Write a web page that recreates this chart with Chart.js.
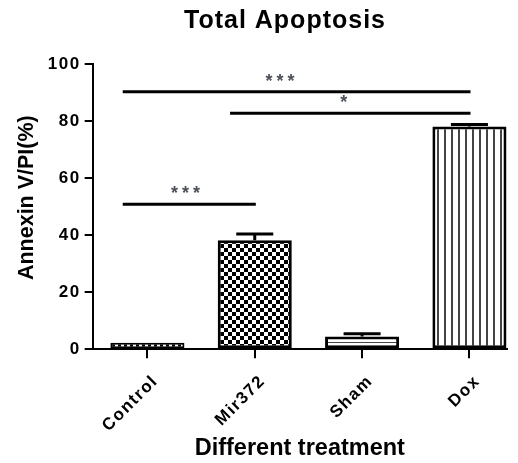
<!DOCTYPE html>
<html>
<head>
<meta charset="utf-8">
<script src="https://cdn.jsdelivr.net/npm/chart.js@4.4.1/dist/chart.umd.min.js"></script>
<style>
  html, body { margin: 0; padding: 0; background: #fff; }
  #wrap { width: 518px; height: 463px; }
</style>
</head>
<body>
<div id="wrap"><canvas id="grafica" width="518" height="463"></canvas></div>
<script>
const categorias = ["Control", "Mir372", "Sham", "Dox"];
const valores = [2.3, 38.2, 4.5, 78.1];
const errores = [0, 2.2, 0.9, 0.7];
// lineas de significancia: desde categoria, hasta categoria, altura, texto
const sigDesde = [0, 1, 0];
const sigHasta = [3, 3, 1];
const sigAltura = [90.3, 82.7, 50.8];
const sigTexto = ["***", "*", "***"];
const sigCorrido = [-0.155, -0.06, -0.035]; // corrimiento del texto respecto al centro

const fuente = "'Liberation Sans', Arial, sans-serif";
const ctx = document.getElementById("grafica").getContext("2d");

// Tramas de relleno de cada barra
function trama(tipo) {
  const c = document.createElement("canvas");
  const g = c.getContext("2d");
  if (tipo === "guiones") {
    c.width = 6; c.height = 1;
    g.fillStyle = "#000"; g.fillRect(0, 0, 6, 1);
    g.fillStyle = "#fff"; g.fillRect(1, 0, 3, 1);
  } else if (tipo === "cuadros") {
    c.width = 8; c.height = 8;
    g.fillStyle = "#fff"; g.fillRect(0, 0, 8, 8);
    g.fillStyle = "#000"; g.fillRect(0, 0, 4, 4); g.fillRect(4, 4, 4, 4);
  } else if (tipo === "horizontal") {
    c.width = 4; c.height = 5;
    g.fillStyle = "#fff"; g.fillRect(0, 0, 4, 5);
    g.fillStyle = "#444"; g.fillRect(0, 2, 4, 1);
  } else {
    c.width = 7; c.height = 4;
    g.fillStyle = "#fff"; g.fillRect(0, 0, 7, 4);
    g.fillStyle = "#444"; g.fillRect(3, 0, 2, 4);
  }
  return ctx.createPattern(c, "repeat");
}

// etiquetas de los ejes con letras separadas (como en Prism)
const espaciado = {
  id: "espaciado",
  beforeUpdate(chart) { chart.ctx.letterSpacing = "1.5px"; },
  beforeDraw(chart) { chart.ctx.letterSpacing = "0px"; },
  afterDatasetsDraw(chart) { chart.ctx.letterSpacing = "1.5px"; },
  afterDraw(chart) { chart.ctx.letterSpacing = "0px"; }
};

const extras = {
  id: "extras",
  afterDatasetsDraw(chart) {
    const c = chart.ctx;
    const xs = chart.scales.x;
    const ys = chart.scales.y;
    const barras = chart.getDatasetMeta(0).data;
    c.save();
    c.strokeStyle = "#000";
    c.lineWidth = 3;
    // barras de error (solo hacia arriba)
    barras.forEach((b, i) => {
      if (!errores[i]) return;
      const yTop = ys.getPixelForValue(valores[i] + errores[i]);
      c.beginPath();
      c.moveTo(b.x, b.y);
      c.lineTo(b.x, yTop);
      c.moveTo(b.x - b.width / 4, yTop);
      c.lineTo(b.x + b.width / 4, yTop);
      c.stroke();
    });
    // lineas de significancia
    sigTexto.forEach((t, k) => {
      const x1 = xs.getPixelForValue(sigDesde[k] - 0.23);
      const x2 = xs.getPixelForValue(sigHasta[k] + 0.01);
      const y = ys.getPixelForValue(sigAltura[k]);
      c.beginPath();
      c.moveTo(x1, y);
      c.lineTo(x2, y);
      c.stroke();
      const xm = xs.getPixelForValue((sigDesde[k] - 0.23 + sigHasta[k] + 0.01) / 2 + sigCorrido[k]);
      c.fillStyle = "#4c5058";
      c.font = "bold 18px " + fuente;
      c.letterSpacing = "4px";
      c.textAlign = "center";
      c.textBaseline = "middle";
      c.fillText(t, xm + 2, y - 10);
    });
    c.restore();
  },
  afterDraw(chart) {
    const c = chart.ctx;
    c.save();
    c.fillStyle = "#000";
    c.font = "bold 25px " + fuente;
    c.letterSpacing = "1px";
    c.textAlign = "center";
    c.textBaseline = "middle";
    c.fillText("Total Apoptosis", 285, 21);
    c.restore();
  }
};

new Chart(ctx, {
  type: "bar",
  data: {
    datasets: [
      {
        data: valores.map((v, i) => ({ x: i, y: v })),
        backgroundColor: [trama("guiones"), trama("cuadros"), trama("horizontal"), trama("vertical")],
        borderColor: "#000",
        borderWidth: [2, 3, 3, 3],
        borderSkipped: false,
        categoryPercentage: 1,
        barPercentage: 0.69,
      },
    ],
  },
  options: {
    responsive: false,
    animation: false,
    layout: { padding: { top: 64, left: 14, right: 11, bottom: 0 } },
    plugins: { legend: { display: false }, tooltip: { enabled: false } },
    scales: {
      x: {
        type: "linear",
        offset: false,
        min: -0.51,
        max: 3.35,
        afterBuildTicks: (s) => { s.ticks = categorias.map((c, i) => ({ value: i })); },
        ticks: {
          callback: (v) => categorias[v],
          minRotation: 45,
          maxRotation: 45,
          color: "#000",
          padding: 13,
          labelOffset: 8,
          z: 1,
          font: { family: fuente, size: 17, weight: "bold" },
        },
        grid: { offset: false, drawOnChartArea: false, drawTicks: true, tickLength: 9, color: "#000", lineWidth: 2 },
        border: { color: "#000", width: 2 },
        title: {
          display: true,
          text: "Different treatment",
          color: "#000",
          font: { family: fuente, size: 23.5, weight: "bold" },
          padding: { top: -14, bottom: 0 },
        },
      },
      y: {
        min: 0,
        max: 100,
        ticks: {
          stepSize: 20,
          color: "#000",
          padding: 4,
          z: 1,
          font: { family: fuente, size: 17, weight: "bold" },
        },
        grid: { drawOnChartArea: false, drawTicks: true, tickLength: 8, color: "#000", lineWidth: 2 },
        border: { color: "#000", width: 2 },
        title: {
          display: true,
          text: "   Annexin V/PI(%)",
          color: "#000",
          font: { family: fuente, size: 21.5, weight: "bold" },
          padding: { top: 0, bottom: 4 },
        },
      },
    },
  },
  plugins: [espaciado, extras],
});
</script>
</body>
</html>
